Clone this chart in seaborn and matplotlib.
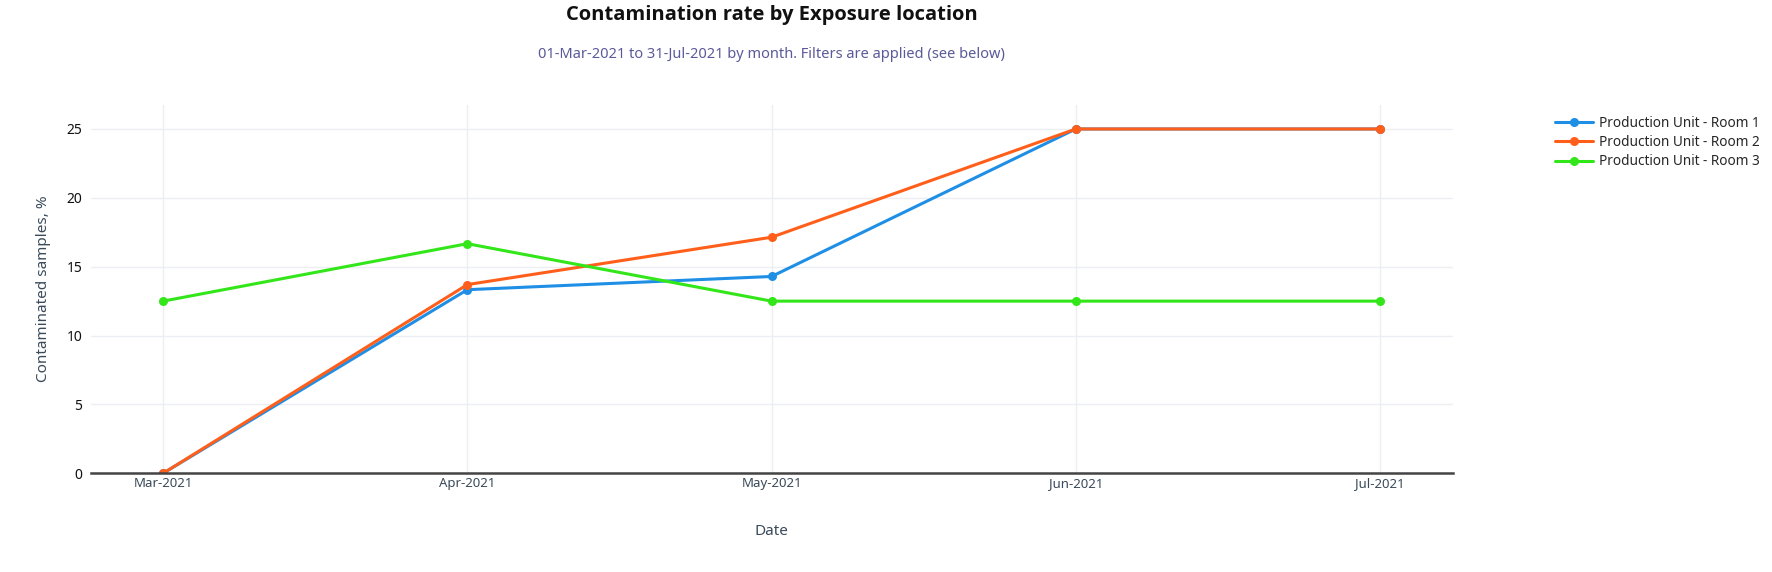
import pandas as pd
import matplotlib.pyplot as plt
import seaborn as sns

# data
months = ['Mar-2021', 'Apr-2021', 'May-2021', 'Jun-2021', 'Jul-2021']
room1 = [0, 13.33, 14.29, 25, 25]
room2 = [0, 13.7, 17.14, 25, 25]
room3 = [12.5, 16.67, 12.5, 12.5, 12.5]
series_names = ['Production Unit - Room 1', 'Production Unit - Room 2', 'Production Unit - Room 3']
colors = ['#1f8fe6', '#ff5f1a', '#33e61a']

df = pd.DataFrame({
    'Date': months * 3,
    'Rate': room1 + room2 + room3,
    'Location': [n for n in series_names for _ in months],
})

sns.set_style('white')
plt.rcParams['font.family'] = ['Noto Sans', 'DejaVu Sans']

fig = plt.figure(figsize=(17.72, 5.72), dpi=100)
ax = fig.add_axes([0.0512, 0.1726, 0.7688, 0.6438])

sns.lineplot(data=df, x='Date', y='Rate', hue='Location', palette=colors,
             marker='o', markersize=6.5, markeredgewidth=0, linewidth=2.2,
             ax=ax, legend=True)

ax.set_xlim(-0.238, 4.24)
ax.set_ylim(0, 26.74)
ax.set_yticks([0, 5, 10, 15, 20, 25])
ax.grid(True, color='#ebeef2', linewidth=1)
ax.set_axisbelow(True)
for s in ['top', 'right', 'left']:
    ax.spines[s].set_visible(False)
ax.spines['bottom'].set_color('#444444')
ax.spines['bottom'].set_linewidth(1.8)
ax.tick_params(axis='both', length=0)
ax.tick_params(axis='x', labelsize=9.5, labelcolor='#3a4a5a', pad=3)
ax.tick_params(axis='y', labelsize=10, labelcolor='#111111', pad=6)

ax.set_xlabel('Date', fontsize=11, color='#3a4a5a', labelpad=24)
ax.set_ylabel('Contaminated samples, %', fontsize=11, color='#3a4a5a', labelpad=11)

handles, labels = ax.get_legend_handles_labels()
ax.get_legend().remove()
fig.legend(handles, labels, loc='upper left', bbox_to_anchor=(0.8775, 0.797),
           frameon=False, fontsize=9.8, handlelength=2.8, handletextpad=0.45,
           borderpad=0, borderaxespad=0, labelspacing=0.3)

# title and subtitle centred on the plot area
cx = 0.0512 + 0.7688 / 2
fig.text(cx, 0.973, 'Contamination rate by Exposure location', ha='center', va='center',
         fontsize=14.5, fontweight='bold', family=['Open Sans', 'DejaVu Sans'], color='#111111')
fig.text(cx, 0.904, '01-Mar-2021 to 31-Jul-2021 by month. Filters are applied (see below)',
         ha='center', va='center', fontsize=10.5, color='#5a5a9a')

fig.savefig('out.png', dpi=100)
